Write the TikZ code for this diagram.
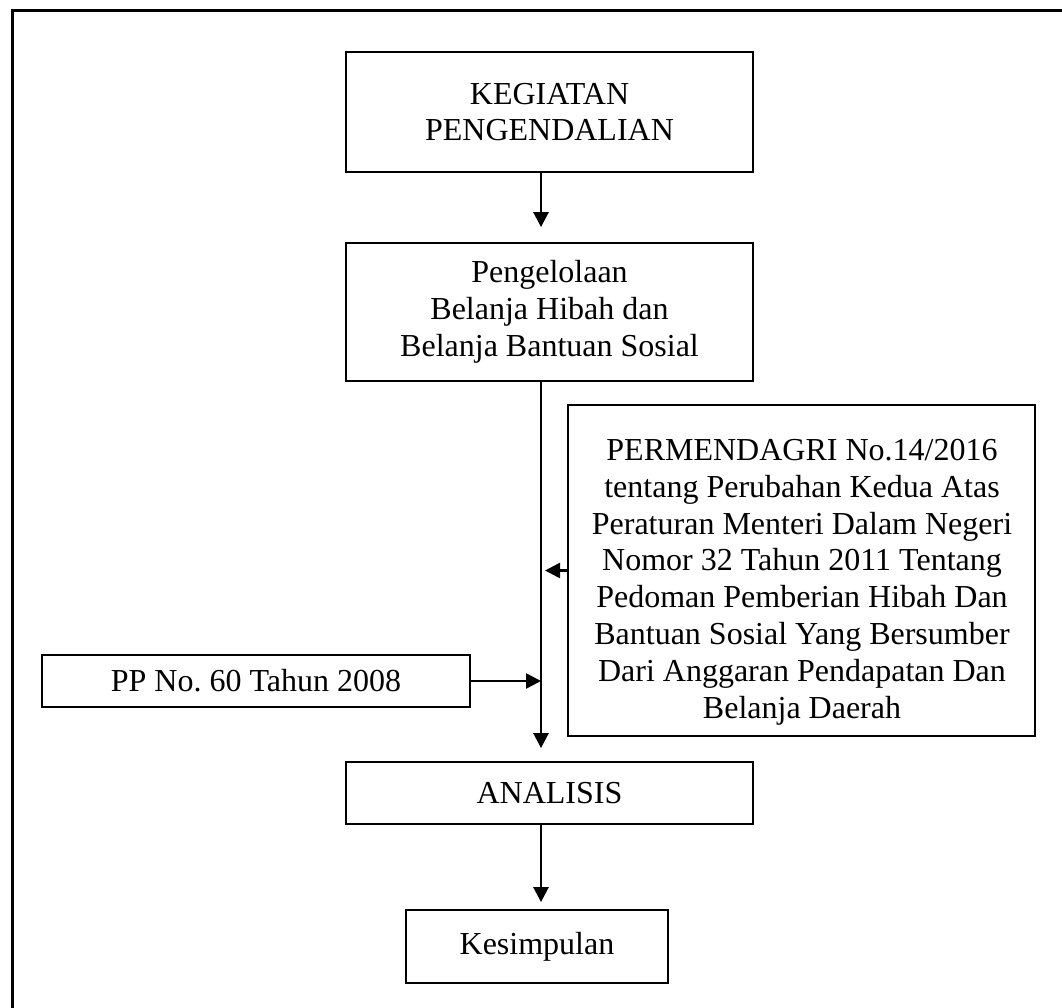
\documentclass[tikz,border=0pt]{standalone}
\usepackage{fontspec}
\setmainfont{Liberation Serif}
\usetikzlibrary{arrows.meta,calc}
\tikzset{
  box/.style={draw, line width=1.8pt, inner sep=0pt, align=center},
  arr/.style={line width=2.6pt, -{Triangle[length=15pt,width=15pt]}},
  frameline/.style={line width=3pt},
}
\begin{document}
\frenchspacing
\begin{tikzpicture}[x=1pt,y=-1pt,font=\fontsize{32}{36.8}\selectfont]
\useasboundingbox (0,0) rectangle (1062,1008);
\draw[frameline] (12,1008) -- (12,11) -- (1062,11);
\coordinate (spine) at (541,0);
\node[box, minimum width=407pt, minimum height=120pt] (keg) at (549.5,112) {KEGIATAN\\PENGENDALIAN};
\node[box, minimum width=407pt, minimum height=138pt] (pen) at (549.5,312) {Pengelolaan\\Belanja Hibah dan\\Belanja Bantuan Sosial};
\node[box, minimum width=467pt, minimum height=331pt] (perm) at (801.5,570.5) {};
\node[inner sep=0pt, align=center, anchor=north] (permtext) at (802,439) {PERMENDAGRI No.14/2016\\tentang Perubahan Kedua Atas\\Peraturan Menteri Dalam Negeri\\Nomor 32 Tahun 2011 Tentang\\Pedoman Pemberian Hibah Dan\\Bantuan Sosial Yang Bersumber\\Dari Anggaran Pendapatan Dan\\Belanja Daerah};
\node[box, minimum width=428pt, minimum height=52pt] (pp) at (256,681) {PP No. 60 Tahun 2008};
\node[box, minimum width=407pt, minimum height=62pt] (ana) at (549.5,793) {ANALISIS};
\node[box, minimum width=262pt, minimum height=73pt] (kes) at (537,946.5) {Kesimpulan};
\draw[arr, shorten >=15pt] (keg.south -| spine) -- (pen.north -| spine);
\draw[arr, shorten >=13pt] (pen.south -| spine) -- (ana.north -| spine);
\draw[arr, shorten >=4pt] (perm.west) -- (perm.west -| spine);
\draw[arr] (pp.east) -- (pp.east -| spine);
\draw[arr, shorten >=7pt] (ana.south -| spine) -- (kes.north -| spine);
\end{tikzpicture}
\end{document}
